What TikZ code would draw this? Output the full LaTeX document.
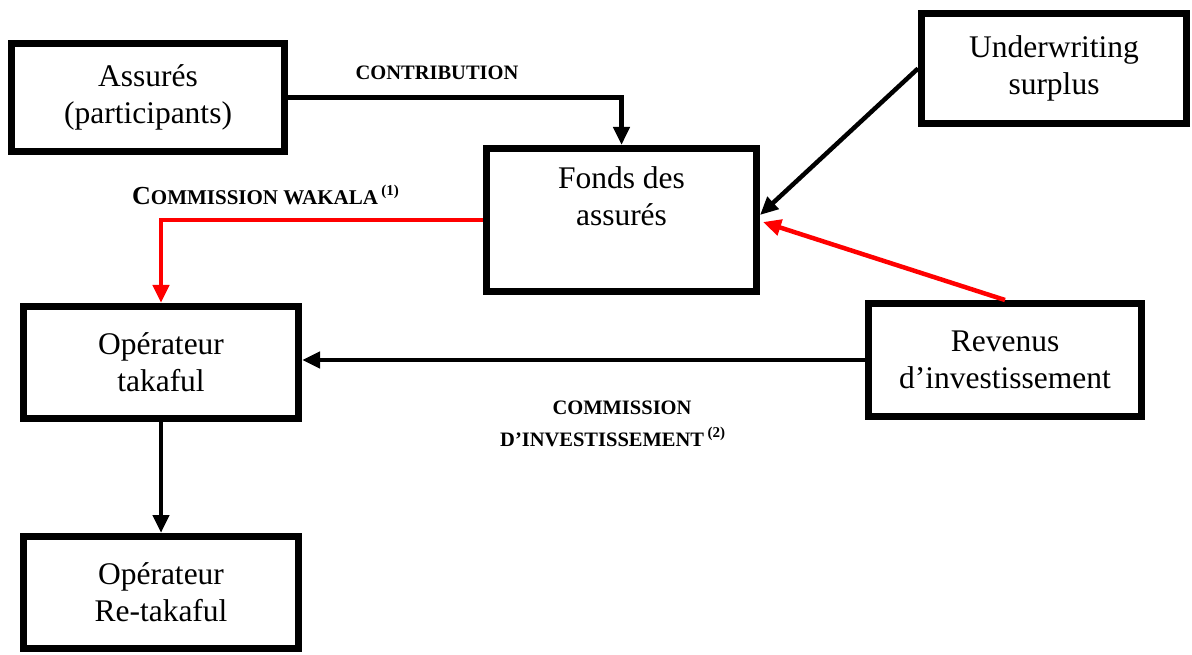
\documentclass[tikz,border=0pt]{standalone}
\usepackage{fontspec}
\setmainfont{Liberation Serif}
\usetikzlibrary{arrows.meta,calc}
\tikzset{
  box/.style={draw=black, line width=7pt, fill=white, align=center, font=\fontsize{31.5}{37}\selectfont, inner sep=0pt},
  conn/.style={line width=4.5pt, -{Triangle[length=18pt,width=16pt]}},
  redconn/.style={conn, draw=red, color=red},
  lab/.style={font=\fontsize{20.5}{30}\selectfont\bfseries, inner sep=0pt}
}
\begin{document}
\begin{tikzpicture}[x=1pt,y=-1pt]
\useasboundingbox[fill=white] (0,0) rectangle (1192,655);
\node[box, minimum width=273pt, minimum height=108pt] (a) at (148,97.5) {Assurés\\(participants)};
\node[box, minimum width=265pt, minimum height=110pt] (u) at (1054,68.5) {Underwriting\\surplus};
\node[box, minimum width=270pt, minimum height=143pt] (f) at (621.5,220) {Fonds des\\assurés\\\strut};
\node[box, minimum width=275pt, minimum height=112pt] (t) at (161,362.5) {Opérateur\\takaful};
\node[box, minimum width=273pt, minimum height=113pt] (r) at (1005,360) {Revenus\\d’investissement};
\node[box, minimum width=275pt, minimum height=112pt] (rt) at (161,592.5) {Opérateur\\Re-takaful};

\draw[conn] (a.east) -| (f.north);
\draw[conn] (u.west) -- ($(f.east)+(0,-5)$);
\draw[redconn] (r.north) -- ($(f.east)+(3,2)$);
\draw[redconn] (f.west) -| (t.north);
\draw[conn] (r.west) -- (r.west -| t.east);
\draw[conn] (t.south) -- (rt.north);

\node[lab] (l1) at (437,73) {CONTRIBUTION};
\node[lab, anchor=base west] (l2) at (132,205) {{\fontsize{26}{30}\selectfont C}{\fontsize{21}{30}\selectfont OMMISSION WAKALA}\,{\fontsize{15}{20}\selectfont\raisebox{9pt}{(1)}}};
\node[lab] (l3) at (622,408) {COMMISSION};
\node[lab, anchor=base west] (l4) at (500,446) {D’INVESTISSEMENT\,{\fontsize{15}{20}\selectfont\raisebox{9pt}{(2)}}};
\end{tikzpicture}
\end{document}
